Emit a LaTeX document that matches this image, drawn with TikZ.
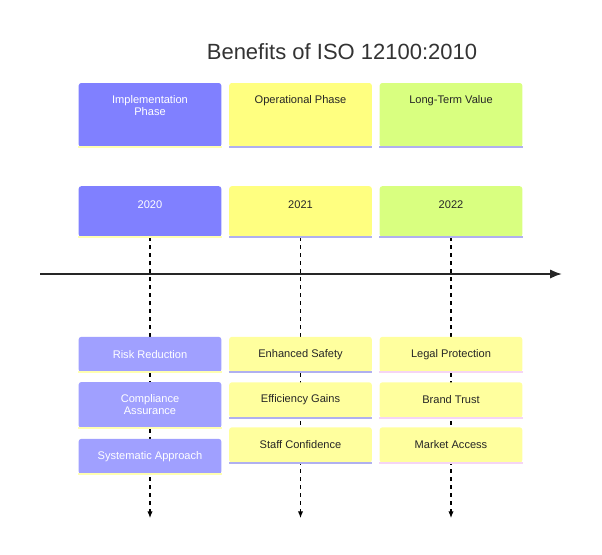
\documentclass[tikz,border=0pt]{standalone}
\usepackage{fontspec}
\setmainfont{Liberation Sans}
\usetikzlibrary{arrows.meta}
\definecolor{blueA}{HTML}{8080FF}
\definecolor{blueB}{HTML}{A0A0FF}
\definecolor{yelA}{HTML}{FFFF80}
\definecolor{yelB}{HTML}{FFFF9E}
\definecolor{greenA}{HTML}{D9FF80}
\definecolor{edgeY}{HTML}{FFFFB0}
\definecolor{edgeP}{HTML}{B0B0F0}
\definecolor{edgeK}{HTML}{F5D5F5}
\begin{document}
\begin{tikzpicture}
[
    x=0.75pt, y=-0.75pt,
    box/.style={shape=rectangle, rounded corners=2pt, inner sep=0pt, font=\fontsize{8.3}{10}\selectfont, align=center, minimum width=107pt},
    head/.style={box, minimum height=48pt},
    year/.style={box, minimum height=38pt},
    item/.style={box, minimum height=26.5pt},
    itemtall/.style={box, minimum height=34.5pt},
    colA/.style={fill=blueA, text=white},
    colAi/.style={fill=blueB, text=white},
    colB/.style={fill=yelA, text=black!85},
    colBi/.style={fill=yelB, text=black!85},
    colC/.style={fill=greenA, text=black!85},
    colCi/.style={fill=yelB, text=black!85},
    timeline/.style={dashed, thick, -{Latex[length=5pt,width=4pt]}},
]
\useasboundingbox (0,0) rectangle (602,554);
\node[font=\fontsize{16.5}{20}\selectfont, text=black!80] (title) at (342,52) {Benefits of ISO 12100:2010};
% phase headers
\node[head, colA] (phaseA) at (150,115) {};
\node[head, colB] (phaseB) at (300.5,115) {};
\node[head, colC] (phaseC) at (451,115) {};
\node[anchor=north, box, text=white, minimum width=0pt] (phaseAt) at (150,95) {Implementation\\[-1pt]Phase};
\node[anchor=north, box, text=black!85, minimum width=0pt] (phaseBt) at (300.5,95) {Operational Phase};
\node[anchor=north, box, text=black!85, minimum width=0pt] (phaseCt) at (451,95) {Long-Term Value};
% years
\node[year, colA] (yearA) at (150,211.5) {};
\node[year, colB] (yearB) at (300.5,211.5) {};
\node[year, colC] (yearC) at (451,211.5) {};
\node[box, text=white, minimum width=0pt] (yearAt) at (150,205) {2020};
\node[box, text=black!85, minimum width=0pt] (yearBt) at (300.5,205) {2021};
\node[box, text=black!85, minimum width=0pt] (yearCt) at (451,205) {2022};
% main axis
\coordinate (axisL) at (40,274);
\coordinate (axisR) at (562,274);
\draw[line width=1.4pt, black!85, -{Latex[length=9pt,width=7pt]}] (axisL) -- (axisR);
% dashed columns
\coordinate (endA) at (150,518);
\coordinate (endB) at (300.5,518);
\coordinate (endC) at (451,518);
\foreach \c in {A,B,C}
    \draw[timeline] (year\c.south) -- (end\c);
% items
\node[item, colAi] (riskA) at (150,354.5) {Risk Reduction};
\node[itemtall, colAi] (compA) at (150,405) {Compliance\\[-1pt]Assurance};
\node[item, colAi] (systA) at (150,456.5) {Systematic Approach};
\node[item, colBi] (safeB) at (300.5,354.5) {Enhanced Safety};
\node[item, colBi] (effB) at (300.5,400) {Efficiency Gains};
\node[item, colBi] (staffB) at (300.5,445) {Staff Confidence};
\node[item, colCi] (legalC) at (451,354.5) {Legal Protection};
\node[item, colCi] (brandC) at (451,400) {Brand Trust};
\node[item, colCi] (marketC) at (451,445) {Market Access};
% bottom edges
\foreach \n in {phaseA,yearA,riskA,compA,systA}
    \draw[edgeY, line width=1.5pt] (\n.south west) -- (\n.south east);
\foreach \n in {phaseB,yearB,safeB,effB,staffB}
    \draw[edgeP, line width=1.5pt] (\n.south west) -- (\n.south east);
\foreach \n in {phaseC,yearC}
    \draw[edgeP, line width=1.5pt] (\n.south west) -- (\n.south east);
\foreach \n in {legalC,brandC,marketC}
    \draw[edgeK, line width=1.5pt] (\n.south west) -- (\n.south east);
\end{tikzpicture}
\end{document}
